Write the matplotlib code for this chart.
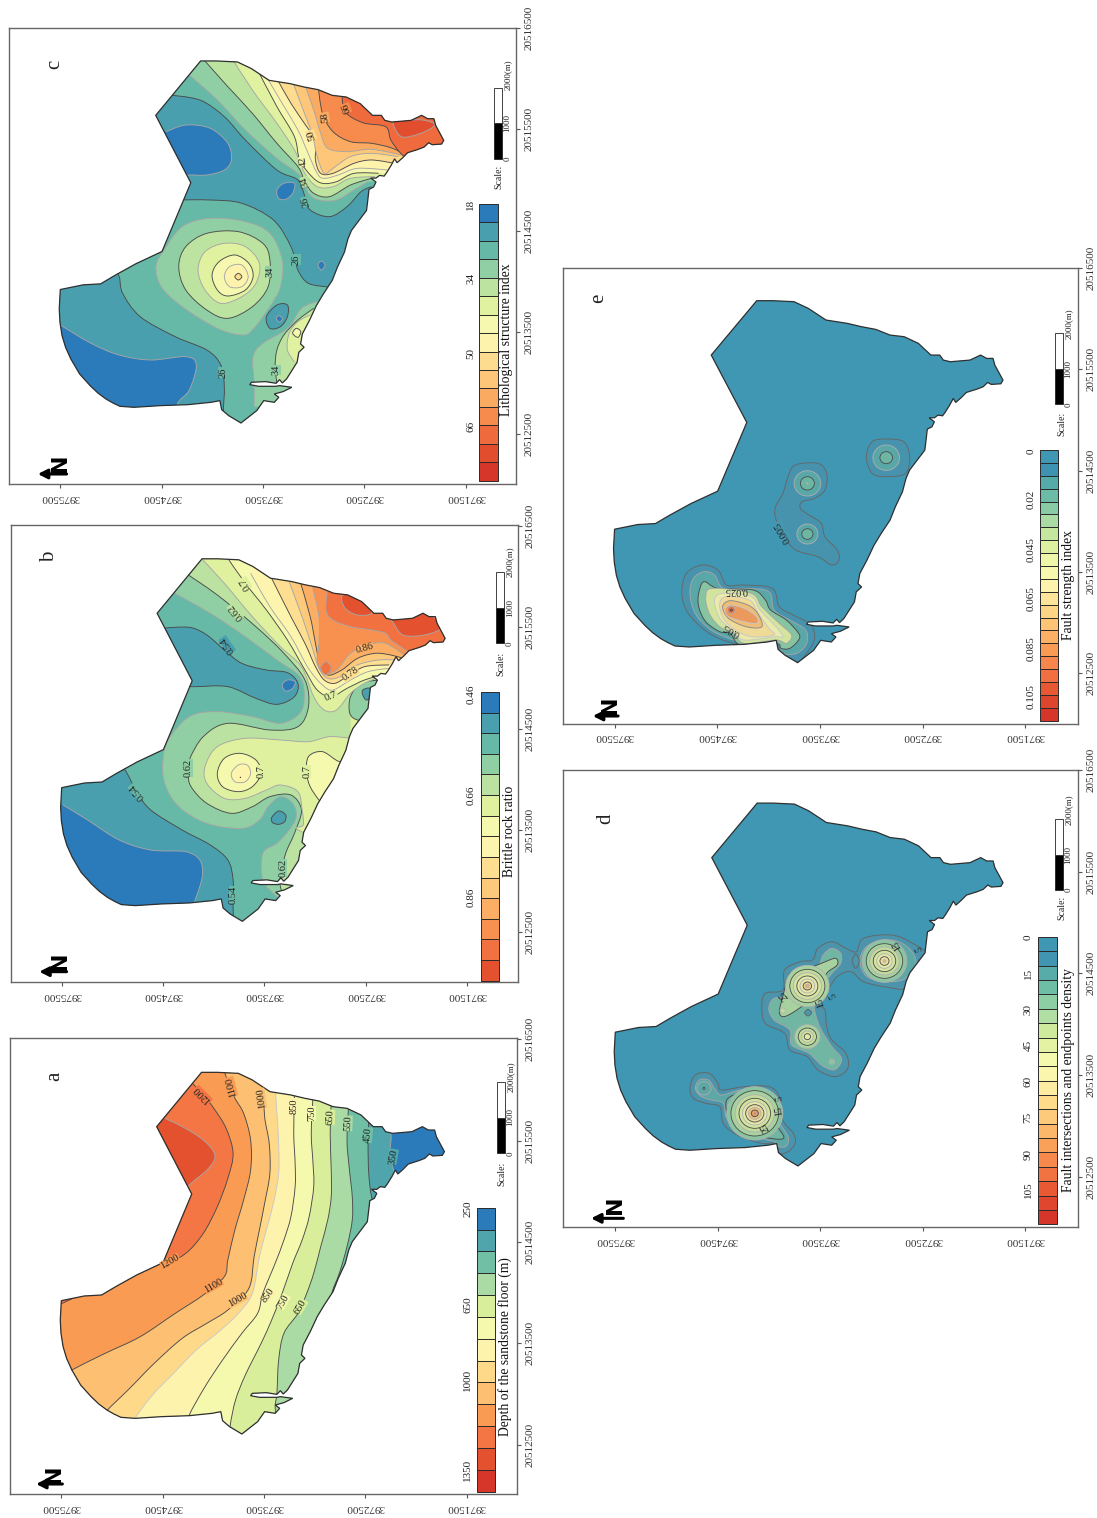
import numpy as np
import matplotlib
matplotlib.use("Agg")
import matplotlib.pyplot as plt
from matplotlib.path import Path
from matplotlib.patches import PathPatch, Polygon, Rectangle, Ellipse
from matplotlib.colors import LinearSegmentedColormap, to_rgb

plt.rcParams['font.family'] = ['Liberation Serif', 'DejaVu Serif']

north_ticks = [3975500, 3974500, 3973500, 3972500, 3971500]
east_ticks = [20512500, 20513500, 20514500, 20515500, 20516500]

# study area boundary, digitised on panel a
outline = [(175,812),(240,798),(290,795),(330,770),(390,735),(465,698),(547,492),(447,290),(575,127),(620,127),(680,130),
           (720,150),(770,185),(830,195),(870,205),(910,213),(950,230),(990,235),(1030,255),(1065,290),(1090,290),(1100,305),
           (1120,310),(1175,305),(1205,290),(1222,300),(1240,300),(1245,320),(1268,365),(1262,376),(1235,378),(1225,372),
           (1212,385),(1195,392),(1165,402),(1150,418),(1135,432),(1128,420),(1118,440),(1105,462),(1098,472),(1085,470),
           (1075,478),(1060,478),(1075,490),(1068,505),(1055,512),(1052,540),(1048,575),(1030,600),(1005,635),(995,660),
           (985,700),(965,745),(950,785),(925,825),(905,860),(885,905),(865,945),(860,975),(870,985),(855,1000),(850,1030),
           (820,1080),(808,1092),(800,1082),(790,1093),(760,1088),(720,1090),(715,1097),(740,1102),(790,1102),(800,1100),
           (835,1105),(810,1118),(785,1125),(798,1135),(785,1150),(755,1145),(735,1175),(690,1212),(655,1190),(635,1172),
           (630,1145),(605,1150),(540,1157),(460,1160),(385,1165),(345,1162),(325,1152),(305,1140),(282,1122),(260,1100),
           (230,1065),(205,1020),(190,985),(180,950),(174,910),(172,870)]

# panel a: depth contours
a_350 = [(1110,280),(1116,320),(1113,370),(1125,425),(1145,450)]
a_450 = [(1052,270),(1050,340),(1052,430),(1060,500),(1075,540)]
a_550 = [(995,220),(990,330),(997,420),(1005,500),(1005,570),(990,650),(968,730),(947,790),(950,840)]
a_650 = [(945,220),(942,310),(945,420),(945,500),(935,570),(915,650),(895,730),(875,790),(850,850),(810,910),(795,990),(790,1090),(785,1130),(790,1180)]
a_750 = [(893,200),(888,310),(893,400),(895,470),(882,560),(862,630),(835,700),(805,790),(775,870),(745,940),(700,1035),(672,1110),(657,1185),(655,1230)]
a_850 = [(840,190),(838,310),(842,400),(842,470),(830,560),(810,630),(785,700),(750,790),(735,850),(690,910),(635,990),(585,1070),(540,1155),(530,1200)]
a_950 = [(785,170),(790,250),(795,340),(795,430),(780,520),(760,600),(740,680),(720,790),(680,850),(630,900),(560,960),(495,1030),(435,1095),(385,1165),(370,1200)]
a_1000 = [(752,170),(755,260),(768,340),(770,430),(755,520),(740,600),(725,680),(710,775),(650,840),(590,880),(520,925),(440,1000),(370,1075),(305,1142),(290,1170)]
a_1100 = [(640,125),(668,200),(695,250),(715,330),(715,420),(695,510),(670,600),(650,690),(640,740),(580,795),(500,850),(400,920),(300,970),(205,1020),(170,1045)]
a_1200 = [(540,150),(580,195),(610,235),(645,295),(665,370),(650,445),(620,530),(580,610),(530,670),(465,705),(440,680)]
a_1300 = [(470,265),(520,290),(580,330),(613,375),(595,415),(545,460),(530,480)]
a_corner = [(172,812),(215,800),(172,822)]
a_labels = [('1200',578,195,135,10),('1100',660,170,105,9),('1000',745,205,98,8),('850',838,228,90,6),('750',890,250,90,5),
            ('650',943,262,88,4),('550',993,280,88,3),('450',1050,315,85,2),('350',1122,380,80,1),('1200',485,695,30,9),
            ('1100',608,767,30,9),('1000',677,810,30,8),('850',765,797,55,6),('750',808,815,60,5),('650',858,830,60,4)]

# panel b: brittle rock ratio contours
b_sw_blue = [(180,855),(250,900),(340,960),(430,990),(530,995),(570,1020),(578,1060),(570,1100),(553,1155),(553,1200)]
b_054_w = [(340,730),(360,755),(390,815),(430,870),(520,930),(600,975),(650,1020),(665,1080),(665,1160),(667,1230)]
b_054_n = [(460,325),(540,322),(590,345),(640,390),(690,430),(760,450),(820,458),(850,490),(840,530),(790,553),(730,535),(650,500),(560,500),(530,500)]
b_pit_blue = [(805,495),(820,480),(842,485),(835,505),(815,513)]
b_058 = [(490,215),(600,280),(700,350),(790,420),(855,470),(868,530),(855,580),(800,610),(720,590),(620,575),(540,590),(480,660),(465,720),(470,790),(510,860),(590,910),(690,925),(740,900),(765,860),(800,830),(835,850),(845,890),(825,930),(790,970),(750,1000),(750,1080),(790,1130),(830,1170)]
b_pit_1 = [(775,893),(795,873),(815,885),(812,905),(795,913),(778,908)]
b_062 = [(530,160),(620,225),(730,320),(810,400),(870,480),(880,560),(850,620),(770,630),(650,610),(580,650),(540,720),(537,760),(545,800),(590,850),(660,880),(720,860),(770,830),(830,825),(860,870),(840,940),(815,1000),(800,1070),(800,1100),(815,1150)]
b_066_c = [(1000,655),(940,650),(880,665),(800,660),(700,655),(620,680),(585,740),(590,790),(640,835),(700,835),(760,810),(800,795),(850,815),(862,870),(865,915),(845,925),(890,950)]
b_066_n = [(570,110),(640,190),(720,290),(800,380),(860,440),(895,530),(925,570),(960,570),(1000,520),(1040,490),(1085,470)]
b_070_n = [(650,115),(700,190),(760,270),(820,360),(870,450),(905,510),(945,530),(990,505),(1040,480),(1090,465)]
b_070_s = [(1000,700),(970,725),(920,695),(880,710),(875,760),(885,800),(910,840),(930,860)]
b_070_c = [(620,760),(640,715),(685,700),(730,720),(745,760),(720,800),(680,815),(635,800)]
b_074_c = [(660,760),(680,735),(705,735),(715,760),(700,785),(670,785)]
b_pit_3 = [(1085,480),(1030,490),(1000,530),(998,580),(1020,600),(1060,600)]
b_pit_1e = [(1035,510),(1055,505),(1058,530),(1045,540),(1035,525)]
b_074 = [(715,160),(770,260),(830,350),(880,445),(920,495),(950,510),(1000,480),(1050,455),(1110,445)]
b_078 = [(775,175),(830,290),(870,370),(900,440),(925,480),(955,490),(990,470),(1040,440),(1110,435)]
b_082 = [(825,185),(865,300),(890,380),(910,445),(935,475),(970,470),(1020,435),(1080,420),(1135,420)]
b_086 = [(858,190),(885,290),(900,370),(912,430),(935,465),(975,450),(1020,415),(1070,400),(1115,405),(1150,415)]
b_090 = [(890,195),(910,290),(910,370),(905,425),(925,460),(960,450),(1000,400),(1050,375),(1100,370),(1160,410)]
b_094 = [(935,205),(930,270),(950,300),(1000,320),(1060,330),(1100,340),(1115,360),(1150,385),(1195,415)]
b_pit_12 = [(915,445),(930,425),(945,445),(930,465)]
b_098_n = [(975,230),(985,265),(1020,285),(1060,280),(1040,250),(1000,220)]
b_098_s = [(1120,305),(1150,345),(1210,345),(1260,325),(1250,300),(1200,280),(1110,290)]
b_labels = [('0.7',700,190,120,5),('0.62',672,275,130,4),('0.54',648,375,125,1),('0.54',390,815,130,2),('0.62',537,745,90,3),
            ('0.7',745,755,90,5),('0.7',875,755,90,5),('0.62',807,1045,90,3),('0.54',665,1125,90,2),('0.86',1040,385,15,10),
            ('0.78',1000,462,35,8),('0.7',945,528,20,5)]

# panel c: lithological structure index contours
c_sw_blue = [(172,975),(260,1030),(340,1065),(430,1080),(530,1070),(560,1095),(540,1170),(505,1215),(500,1300)]
c_ne_blue = [(475,395),(530,375),(600,385),(650,430),(660,480),(640,510),(590,525),(540,525),(520,530)]
c_pit_a = [(790,570),(810,550),(840,550),(835,580),(815,598),(795,595)]
c_pit_b = [(907,795),(917,783),(927,795),(917,810)]
c_26_c = [(500,600),(600,600),(690,610),(780,660),(830,740),(850,810),(880,850),(940,862),(960,870),(960,1400),(640,1400),(640,1300),(637,1240),(640,1160),(630,1095),(590,1050),(500,1010),(400,950),(350,880),(340,830),(320,800)]
c_26_n = [(480,285),(570,300),(640,350),(700,420),(790,510),(850,540),(870,590),(885,630),(940,650),(990,620),(1030,575),(1060,560)]
c_pit_c = [(760,950),(790,915),(820,915),(820,950),(800,980),(770,985)]
c_pit_d = [(788,955),(797,947),(806,957),(797,966)]
c_30_ring = [(465,755),(520,680),(600,655),(700,665),(770,700),(805,780),(800,860),(770,920),(720,990),(690,1005),(620,985),(520,920),(460,860),(445,800)]
c_30_s = [(905,905),(860,925),(820,985),(750,1030),(722,1070),(725,1150),(725,1220)]
c_34_ring = [(510,800),(530,740),(590,700),(680,695),(750,730),(770,780),(765,860),(720,920),(650,955),(590,930),(530,870)]
c_34_s = [(895,925),(850,960),(810,1005),(790,1050),(785,1100),(790,1150)]
c_38_ring = [(565,810),(585,755),(640,730),(700,740),(740,790),(730,850),(690,890),(630,910),(585,870)]
c_38_s = [(885,945),(850,965),(825,1000),(820,1050),(840,1085)]
c_42_ring = [(605,825),(625,785),(670,765),(710,790),(722,830),(700,870),(650,888),(620,870)]
c_42_s = [(845,985),(835,1000),(850,1012),(858,995)]
c_46_ring = [(640,830),(655,800),(690,795),(708,830),(690,860),(655,860)]
c_50_ring = [(670,830),(680,820),(690,830),(680,840)]
c_30_n = [(540,225),(620,300),(700,390),(790,475),(860,530),(880,580),(910,600),(960,600),(1010,570),(1050,545)]
c_34_n = [(578,175),(650,260),(720,340),(790,430),(850,500),(870,545),(895,580),(940,590),(1000,555),(1060,535)]
c_38_n = [(665,180),(720,270),(790,370),(840,450),(870,520),(905,560),(950,560),(1000,535),(1070,530)]
c_42_n = [(740,220),(790,320),(840,410),(855,480),(890,530),(920,550),(960,545),(1010,520),(1080,520)]
c_46_n = [(760,230),(805,310),(850,390),(875,450),(905,520),(925,535),(965,525),(1020,505),(1105,510)]
c_50_n = [(795,245),(830,310),(875,380),(900,420),(900,480),(915,520),(950,520),(1010,490),(1060,480),(1125,490)]
c_54_n = [(835,245),(865,330),(890,400),(905,470),(925,520),(950,505),(1000,470),(1060,460),(1135,470)]
c_58_g = [(870,255),(895,330),(915,400),(935,445),(990,455),(1060,448),(1145,465)]
c_58_n = [(908,260),(920,340),(950,395),(1000,425),(1060,430),(1120,445),(1175,475)]
c_66_n = [(975,275),(985,335),(1035,368),(1100,380),(1115,420),(1145,462),(1175,485)]
c_70_tail = [(1120,365),(1145,410),(1200,400),(1240,375),(1205,360),(1140,362)]
c_labels = [('26',635,1118,90,2),('34',788,1110,90,3),('26',845,778,90,2),('34',770,815,90,3),('26',872,605,105,2),
            ('34',870,545,105,4),('42',865,485,100,6),('50',888,405,110,8),('58',927,352,100,10),('66',988,325,110,11)]

# panel d: fault intersections and endpoints density
d_w_1 = [(385,985),(400,945),(440,940),(465,970),(475,990),(540,980),(610,980),(640,1010),(650,1080),(680,1120),(685,1150),(665,1175),(640,1180),(630,1150),(590,1150),(520,1125),(480,1090),(470,1040),(430,1030),(395,1015)]
d_w_2 = [(400,985),(412,960),(438,960),(455,985),(475,1005),(530,990),(600,995),(625,1020),(640,1085),(665,1130),(660,1158),(640,1160),(625,1145),(590,1135),(530,1110),(490,1075),(480,1030),(445,1020),(415,1008)]
d_w_3 = [(490,1020),(530,1000),(590,1000),(620,1030),(630,1090),(652,1135),(590,1130),(530,1105),(495,1070)]
d_c_1 = [(590,740),(600,700),(650,690),(655,630),(700,605),(735,600),(750,565),(790,545),(830,565),(860,575),(880,535),(960,525),(1020,550),(1060,590),(1005,680),(950,682),(880,665),(845,635),(805,650),(775,695),(750,730),(770,750),(775,800),(790,840),(830,880),(835,925),(800,950),(750,930),(720,890),(670,870),(655,820),(600,790)]
d_c_3 = [(610,745),(625,715),(665,710),(670,650),(710,625),(750,620),(765,585),(790,565),(815,580),(815,610),(790,640),(760,680),(740,730),(745,770),(760,810),(790,860),(815,890),(815,910),(795,930),(760,915),(725,880),(675,855),(670,810),(625,780)]
d_c_5 = [(640,755),(650,710),(670,640),(710,630),(760,610),(800,595),(805,615),(775,640),(765,680),(775,710),(720,730),(675,760),(650,770)]
d_e_2 = [(870,600),(895,555),(960,540),(1010,565),(1030,610),(1000,655),(950,665),(890,650)]
d_pit_a = [(848,603),(858,582),(868,603),(858,625)]
d_pit_b = [(712,758),(722,748),(732,758),(722,768)]
# ring centre x, centre y, radii outwards to inwards, first band
d_rings = [(570,1060,[80,68,56,45,35,26,18,10,4],4),(720,678,[62,50,40,30,21,12,5],5),(720,830,[36,26,17,9],5),
           (940,603,[64,52,42,32,22,13,4],4),(425,985,[20,3],2),(790,905,[8],4),(650,752,[8],6)]
d_labels = [('15',975,555,120,None),('5',1040,565,110,None),('25',652,705,130,None),('15',757,728,110,None),('5',792,705,120,None),
            ('5',640,1015,100,None),('15',640,1052,100,None),('25',600,1100,120,None)]

# panel e: fault strength index
e_e_1 = [(888,590),(905,545),(945,537),(995,545),(1012,590),(1000,640),(945,650),(905,640)]
e_c_1 = [(628,745),(650,700),(665,650),(685,615),(750,610),(775,640),(770,690),(740,715),(705,725),(700,745),(725,765),(760,790),(770,830),(805,870),(810,900),(790,915),(750,890),(680,865),(635,790)]
e_s_1 = [(362,1000),(375,940),(420,915),(465,930),(490,975),(540,975),(620,985),(640,1040),(680,1065),(730,1095),(740,1140),(710,1190),(690,1208),(640,1180),(630,1150),(560,1150),(510,1150),(440,1120),(380,1060)]
e_s_2 = [(385,1000),(395,955),(425,935),(455,945),(480,985),(540,985),(610,995),(625,1050),(670,1080),(715,1110),(718,1150),(690,1180),(650,1180),(635,1150),(560,1150),(510,1140),(445,1110),(400,1060)]
e_s_4 = [(410,1000),(425,965),(465,985),(565,990),(600,1020),(615,1050),(660,1080),(695,1120),(695,1140),(670,1165),(645,1165),(630,1150),(530,1155),(500,1120),(470,1115),(430,1085),(410,1040)]
e_s_7 = [(430,1010),(450,985),(560,1000),(590,1040),(640,1090),(675,1125),(660,1150),(630,1140),(540,1150),(510,1120),(470,1100),(440,1060)]
e_s_9 = [(455,1020),(480,1000),(560,1010),(585,1050),(630,1100),(650,1130),(625,1130),(540,1140),(505,1110),(470,1075)]
e_s_11 = [(470,1030),(490,1010),(555,1020),(580,1060),(610,1105),(625,1125),(560,1130),(515,1110),(480,1075)]
e_s_13 = [(478,1040),(500,1022),(550,1035),(578,1060),(590,1100),(545,1100),(495,1075)]
e_s_15 = [(485,1050),(500,1035),(540,1045),(575,1070),(575,1090),(540,1085),(495,1070)]
e_rings = [(945,593,[38,18],2),(720,670,[38,20,2],2),(720,822,[30,16],2),(503,1050,[11,3],17)]
e_labels = [('0.025',515,990,180,None),('0.05',505,1110,150,None),('0.005',650,815,120,0)]

legend_a = ['250', '650', '1000', '1350']
legend_b = ['0.46', '0.66', '0.86']
legend_c = ['18', '34', '50', '66']
legend_d = ['0', '15', '30', '45', '60', '75', '90', '105']
legend_e = ['0', '0.02', '0.045', '0.065', '0.085', '0.105']

palette = LinearSegmentedColormap.from_list('bands', ["#2b7bba", "#4fa6ab", "#72c1a5", "#a9dba4", "#d8ee9b", "#f4f9ae", "#fef4ae",
                                                       "#fed98a", "#fdbf71", "#fa9c55", "#f47744", "#e4512f", "#d6352a"])

# digitising crops are 2.853 wide and 3 tall per page pixel
SX, SY = 2.853, 3.0


def band_colours(n, top=1.0, base=None):
    cols = [palette(top * i / (n - 1)) for i in range(n)]
    if base:
        cols[0] = base
    return cols


def muted(c, amount=0.2):
    return tuple((1 - amount) * np.array(to_rgb(c)) + amount * np.array(to_rgb("#7f8f90")))


def north_close(p):
    return [(p[-1][0], 1500), (50, 1500), (50, 50), (p[0][0], 50)]


def east_close(p):
    return [(1350, p[-1][1]), (1350, 60), (p[0][0], 60)]


def curve(p, closed):
    p = np.asarray(p, float)
    n = len(p)
    if closed:
        t = (np.roll(p, -1, axis=0) - np.roll(p, 1, axis=0)) / 6
        order = list(range(n)) + [0]
    else:
        t = np.zeros_like(p)
        t[1:-1] = (p[2:] - p[:-2]) / 6
        order = list(range(n))
    verts = [p[0]]
    codes = [Path.MOVETO]
    for i, j in zip(order[:-1], order[1:]):
        verts += [p[i] + t[i], p[j] - t[j], p[j]]
        codes += [Path.CURVE4] * 3
    return np.array(verts), codes


class Panel:
    def __init__(self, fig, crop, frame, cal, cols, base=0, tone=0.0):
        self.cal = cal
        self.cols = cols
        self.tone = tone
        ox, oy = crop
        fx0, fx1, fy0, fy1 = frame
        x0, x1 = ox + fx0 / SX, ox + fx1 / SX
        y0, y1 = oy + fy0 / SY, oy + fy1 / SY
        self.ax = fig.add_axes([x0 / 1097, 1 - y1 / 1518, (x1 - x0) / 1097, (y1 - y0) / 1518])
        zx, zy, kx, ky = cal
        self.ax.set_xlim(3975500 + (zx - fx0) / kx * 1000, 3975500 - (fx1 - zx) / kx * 1000)
        self.ax.set_ylim(20512500 - (fy1 - zy) / ky * 1000, 20512500 + (zy - fy0) / ky * 1000)
        ax = self.ax
        ax.set_xticks(north_ticks)
        ax.set_xticklabels([str(v) for v in north_ticks], rotation=180, ha='center', va='top')
        ax.set_yticks(east_ticks)
        ax.set_yticklabels([str(v) for v in east_ticks], rotation=90, ha='left', va='center')
        ax.yaxis.tick_right()
        ax.tick_params(length=3, width=0.8, labelsize=8, color="#555555", labelcolor="#333333", pad=3)
        for s in ax.spines.values():
            s.set_color("#666666")
            s.set_linewidth(1.0)
        # boundary is the same ground on every panel, so always use panel a's calibration
        self.boundary = self.to_map(outline, cal_a)
        self.clip = Polygon(self.boundary, closed=True, fc=cols[base], ec='none', zorder=1)
        ax.add_patch(self.clip)

    def to_map(self, pts, cal=None):
        zx, zy, kx, ky = cal or self.cal
        p = np.asarray(pts, float)
        return np.column_stack([3975500 - (p[:, 0] - zx) / kx * 1000, 20512500 + (zy - p[:, 1]) / ky * 1000])

    def colour(self, band):
        c = self.cols[band]
        return muted(c, self.tone) if self.tone else c

    def fill(self, band, pts, close=None, line='#4a4a4a', lw=0.65):
        closed = close is None
        v, c = curve(self.to_map(pts), closed)
        if closed:
            fv, fc = np.vstack([v, v[0]]), c + [Path.CLOSEPOLY]
        else:
            extra = self.to_map(close)
            fv = np.vstack([v, extra, v[0]])
            fc = c + [Path.LINETO] * len(extra) + [Path.CLOSEPOLY]
        area = PathPatch(Path(fv, fc), fc=self.colour(band), ec='none', zorder=2)
        stroke = PathPatch(Path(v, c), fc='none', ec=line, lw=lw, zorder=2)
        for a in (area, stroke):
            self.ax.add_patch(a)
            a.set_clip_path(self.clip)

    def rings(self, spec, lines=('#4a4a4a', '#b0b0b0')):
        for zx, zy, radii, first in spec:
            centre = self.to_map([(zx, zy)])[0]
            for k, r in enumerate(radii):
                band = min(first + k + (k > 4) * (k - 4), len(self.cols) - 1)
                e = Ellipse(centre, 2 * r / self.cal[2] * 1000, 2 * r / self.cal[3] * 1000, fc=self.colour(band),
                            ec=lines[(k + 1) % 2], lw=0.6, zorder=2)
                self.ax.add_patch(e)
                e.set_clip_path(self.clip)

    def put(self, zx, zy, s, **kw):
        x, y = self.to_map([(zx, zy)])[0]
        kw.setdefault('rotation', 90)
        kw.setdefault('ha', 'center')
        kw.setdefault('va', 'center')
        kw.setdefault('color', '#222222')
        return self.ax.text(x, y, s, zorder=6, **kw)

    def labels(self, rows, size=7.5):
        for s, zx, zy, rot, band in rows:
            box = None if band is None else dict(fc=self.colour(band), ec='none', pad=0.0)
            self.put(zx, zy, s, rotation=rot, fontsize=size, rotation_mode='anchor', bbox=box)

    def finish(self, letter, letter_at, arrow, north_at, legend, scale):
        ax = self.ax
        ax.add_patch(Polygon(self.boundary, closed=True, fc='none', ec='#2f2f2f', lw=0.9, zorder=5))
        self.put(*letter_at, letter, fontsize=15)
        tail, tip, yy = arrow
        ax.annotate('', xy=self.to_map([(tip, yy)])[0], xytext=self.to_map([(tail, yy)])[0],
                    arrowprops=dict(arrowstyle='-|>,head_width=0.28,head_length=0.55', color='k', lw=2.2, shrinkA=0, shrinkB=0))
        self.put(*north_at, 'N', fontsize=16, fontweight='bold', family='DejaVu Sans', color='k')
        # colour legend
        x0, x1, y0, y1, lab_x, lab_rows, title, title_x, title_y = legend
        h = (y1 - y0) / len(self.cols)
        for i, c in enumerate(self.cols):
            a = self.to_map([(x0, y0 + (i + 1) * h), (x1, y0 + i * h)])
            ax.add_patch(Rectangle(a[0], a[1, 0] - a[0, 0], a[1, 1] - a[0, 1], fc=c, ec='#2a2a2a', lw=0.7, zorder=4))
        for s, yy in lab_rows:
            self.put(lab_x, yy, s, fontsize=8)
        self.put(title_x, title_y, title, fontsize=9.8, color='#111111')
        # scale bar
        x0, x1, y0, y1, lab_x, top_y, word_x, word_y = scale
        mid = (y0 + y1) / 2
        for a_y, b_y, c in ((y1, mid, 'k'), (mid, y0, 'w')):
            a = self.to_map([(x0, a_y), (x1, b_y)])
            ax.add_patch(Rectangle(a[0], a[1, 0] - a[0, 0], a[1, 1] - a[0, 1], fc=c, ec='#222222', lw=0.6, zorder=4))
        self.put(lab_x, y1, '0', fontsize=6.5)
        self.put(lab_x, mid, '1000', fontsize=6.5)
        self.put(lab_x, top_y, '2000(m)', fontsize=6.5)
        self.put(word_x, word_y, 'Scale:', fontsize=7)


GREY = '#a6a6a6'
DARK = '#4a4a4a'
cal_a = (175, 1244, 289, 304)

fig = plt.figure(figsize=(10.97, 15.18), dpi=100)
fig.patch.set_facecolor('white')

# ---- a
pa = Panel(fig, (0, 1030), (28, 1475, 25, 1393), cal_a, band_colours(13))
for band, c, col in [(1, a_350, GREY), (2, a_450, DARK), (3, a_550, DARK), (4, a_650, DARK), (5, a_750, DARK), (6, a_850, DARK),
                     (7, a_950, '#c8c8c8'), (8, a_1000, DARK), (9, a_1100, DARK)]:
    pa.fill(band, c, north_close(c), line=col)
pa.fill(10, a_1200, [(300, 680), (300, 100), (540, 100)])
pa.fill(11, a_1300, [(300, 480), (300, 265)], line=GREY)
pa.fill(10, a_corner)
pa.labels(a_labels)
pa.finish('a', (155, 140), (178, 103, 1362), (155, 1330),
          (1361, 1411, 533, 1385, 1335, list(zip(legend_a, [535, 825, 1050, 1320])),
           'Depth of the sandstone floor (m)', 1440, 950),
          (1419, 1441, 155, 370, 1457, 140, 1432, 432))

# ---- b
pb = Panel(fig, (0, 520), (30, 1477, 15, 1387), (176, 1236, 289.25, 304.7), band_colours(14, top=11 / 12), base=2)
pb.fill(1, b_054_w, [(667, 1300), (100, 1300), (100, 730)], line=DARK)
pb.fill(0, b_sw_blue, [(100, 1200), (100, 855)], line=GREY)
pb.fill(1, b_054_n, [(430, 500), (430, 325)], line=DARK)
pb.fill(0, b_pit_blue, line=GREY)
pb.fill(3, b_058, east_close(b_058), line=GREY)
pb.fill(4, b_062, east_close(b_062), line=DARK)
pb.fill(1, b_pit_1, line=DARK)
pb.fill(5, b_066_c, east_close(b_066_c), line=GREY)
pb.fill(3, b_pit_3, east_close(b_pit_3), line=DARK)
pb.fill(1, b_pit_1e, line=DARK)
pb.fill(6, b_070_s, [(1100, 860), (1100, 700)], line=DARK)
pb.fill(6, b_070_c, line=DARK)
pb.fill(7, b_074_c, line=GREY)
pb.fill(5, b_066_n, east_close(b_066_n), line=GREY)
for band, c, col in [(6, b_070_n, DARK), (7, b_074, GREY), (8, b_078, DARK), (9, b_082, GREY), (10, b_086, DARK), (11, b_090, GREY),
                     (12, b_094, GREY)]:
    pb.fill(band, c, east_close(c), line=col)
pb.fill(12, b_pit_12, line=GREY)
pb.fill(13, b_098_n, line=GREY)
pb.fill(13, b_098_s, line=GREY)
pb.put(685, 765, '.', fontsize=8, rotation=0)
pb.labels(b_labels)
pb.finish('b', (140, 110), (190, 112, 1355), (170, 1322),
          (1372, 1423, 516, 1382, 1345, list(zip(legend_b, [522, 825, 1133])), 'Brittle rock ratio', 1455, 935),
          (1416, 1438, 157, 370, 1455, 125, 1430, 432))

# ---- c
pc = Panel(fig, (0, 0), (27, 1473, 83, 1453), (172, 1301, 289.25, 304.3), band_colours(15), base=1)
pc.fill(0, c_sw_blue, [(100, 1300), (100, 975)], line=GREY)
pc.fill(0, c_ne_blue, [(440, 530), (440, 395)], line=GREY)
pc.fill(0, c_pit_a, line=GREY)
pc.fill(0, c_pit_b, line=GREY)
pc.fill(2, c_26_c, [(500, 600)], line=DARK)
pc.fill(2, c_26_n, east_close(c_26_n), line=DARK)
pc.fill(1, c_pit_c, line=DARK)
pc.fill(0, c_pit_d, line=GREY)
pc.fill(3, c_30_ring, line=GREY)
pc.fill(3, c_30_s, [(1000, 1220), (1000, 905)], line=GREY)
pc.fill(4, c_34_ring, line=DARK)
pc.fill(4, c_34_s, [(1000, 1150), (1000, 925)], line=DARK)
pc.fill(5, c_38_ring, line=GREY)
pc.fill(5, c_38_s, [(1000, 1085), (1000, 945)], line=GREY)
pc.fill(6, c_42_ring, line=DARK)
pc.fill(6, c_42_s, line=DARK)
pc.fill(7, c_46_ring, line=GREY)
pc.fill(8, c_50_ring, line=DARK)
for band, c, col in [(3, c_30_n, GREY), (4, c_34_n, DARK), (5, c_38_n, GREY), (6, c_42_n, DARK), (7, c_46_n, GREY), (8, c_50_n, DARK),
                     (9, c_54_n, GREY), (10, c_58_g, GREY), (11, c_58_n, DARK), (12, c_66_n, DARK)]:
    pc.fill(band, c, east_close(c), line=col)
pc.fill(13, c_70_tail, line=GREY)
pc.labels(c_labels)
pc.finish('c', (155, 193), (190, 108, 1422), (170, 1388),
          (1368, 1420, 612, 1442, 1343, list(zip(legend_c, [613, 835, 1060, 1280])), 'Lithological structure index', 1445, 1020),
          (1410, 1432, 263, 476, 1448, 225, 1423, 530))

# ---- d
pd_ = Panel(fig, (555, 760), (22, 1492, 30, 1402), (172, 1250, 292.5, 305), band_colours(20, base="#3f97b3"), tone=0.16)
pd_.fill(1, d_w_1, line='#666666')
pd_.fill(2, d_w_2, line=GREY)
pd_.fill(3, d_w_3, line=DARK)
pd_.fill(1, d_c_1, line='#666666')
pd_.fill(2, d_e_2, line=GREY)
pd_.fill(3, d_c_3, line=GREY)
pd_.fill(5, d_c_5, line=DARK)
pd_.fill(0, d_pit_a, line='#666666')
pd_.fill(0, d_pit_b, line='#666666')
pd_.rings(d_rings)
pd_.labels(d_labels, size=7)
pd_.finish('d', (145, 175), (195, 103, 1375), (170, 1335),
           (1378, 1432, 531, 1393, 1350, list(zip(legend_d, [533, 640, 748, 857, 965, 1073, 1182, 1290])),
            'Fault intersections and endpoints density', 1465, 960),
           (1427, 1449, 178, 390, 1465, 150, 1445, 445))

# ---- e
pe = Panel(fig, (555, 260), (22, 1492, 23, 1392), (170, 1240, 293, 304.3), band_colours(21, base="#3f97b3"), tone=0.12)
pe.fill(1, e_e_1, line='#666666')
pe.fill(1, e_c_1, line='#666666')
pe.fill(1, e_s_1, line='#666666')
pe.fill(2, e_s_2, line=GREY)
pe.fill(4, e_s_4, line=DARK)
pe.fill(7, e_s_7, line=GREY)
pe.fill(9, e_s_9, line='#c8c8c8')
pe.fill(11, e_s_11, line='#c8c8c8')
pe.fill(13, e_s_13, line='#8a8a8a')
pe.fill(15, e_s_15, line='#c8c8c8')
pe.rings(e_rings)
pe.labels(e_labels, size=7.5)
pe.finish('e', (125, 115), (180, 108, 1368), (158, 1335),
          (1384, 1434, 570, 1382, 1357, list(zip(legend_e, [573, 718, 870, 1015, 1165, 1310])), 'Fault strength index', 1465, 975),
          (1427, 1449, 220, 433, 1465, 190, 1445, 490))

fig.savefig("out.png", dpi=100)
